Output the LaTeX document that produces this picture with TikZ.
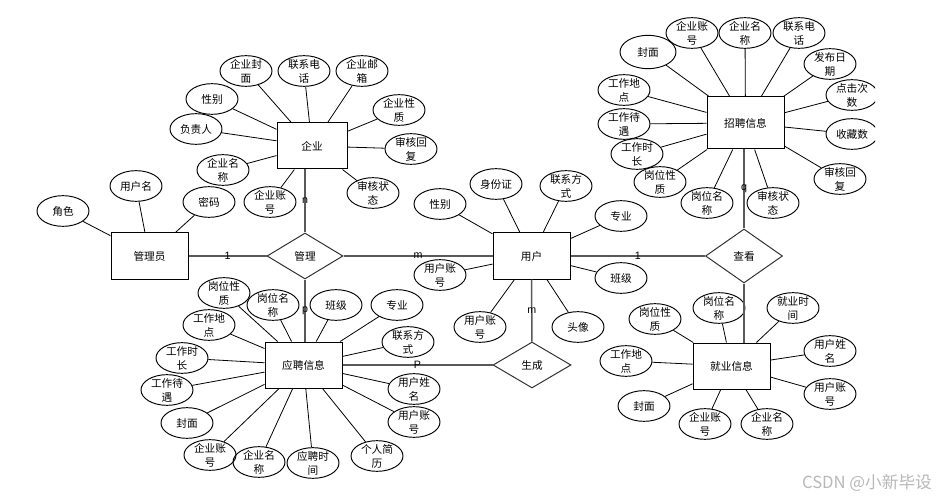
\documentclass[tikz,border=0pt]{standalone}
\usepackage{fontspec}
\setmainfont{Liberation Sans}
\newfontfamily\cjk{Noto Sans CJK SC}
\usetikzlibrary{shapes.geometric}
\newcommand\attrnode[4][]{\node[attr,#1,label={[alab]center:{#4}}] (#2) at (#3) {};}
\begin{document}
\begin{tikzpicture}[x=0.75pt,y=-0.75pt,
  ent/.style={draw=black, line width=0.75pt, minimum width=57.75pt, minimum height=34.5pt, inner sep=0pt, font=\cjk\fontsize{8}{10.5}\selectfont},
  relbox/.style={diamond, draw=black!80, line width=0.75pt, inner sep=0pt, minimum width=57pt, minimum height=34.5pt, font=\cjk\fontsize{8}{10.5}\selectfont},
  attr/.style={ellipse, draw=black, line width=0.7pt, minimum width=39pt, minimum height=23pt, inner sep=0pt},
  alab/.style={align=center, inner sep=0pt, font=\cjk\fontsize{8}{10.5}\selectfont},
  aline/.style={draw=black, line width=0.6pt},
  rline/.style={draw=black!65, line width=1.1pt},
  card/.style={inner sep=0pt, font=\fontsize{8}{9}\selectfont}
]
\useasboundingbox[fill=white] (0,0) rectangle (939,499);

% entities
\node[ent, minimum width=52.5pt] (qy) at (312,146) {企业};
\node[ent, minimum height=35.25pt] (gly) at (149.5,256) {管理员};
\node[ent] (yh) at (531.5,256) {用户};
\node[ent, minimum height=39pt] (zp) at (745.5,123) {招聘信息};
\node[ent] (jy) at (731.5,366) {就业信息};
\node[ent] (yp) at (303.5,365) {应聘信息};

% relationships
\node[relbox] (gl) at (305,256) {管理};
\node[relbox, minimum width=57.75pt, minimum height=40.5pt] (ck) at (744,256) {查看};
\node[relbox, minimum width=58.5pt] (sc) at (532,365) {生成};

% 企业 attributes
\attrnode{q1}{246,71}{企业封\\面}
\attrnode{q2}{304,71}{联系电\\话}
\attrnode{q3}{362,71}{企业邮\\箱}
\attrnode{q4}{212,99}{性别}
\attrnode{q5}{399,110}{企业性\\质}
\attrnode{q6}{196,129}{负责人}
\attrnode{q7}{411,149}{审核回\\复}
\attrnode{q8}{223,170}{企业名\\称}
\attrnode{q9}{270,202}{企业账\\号}
\attrnode{q10}{373,193}{审核状\\态}
\foreach \a in {q1,q2,q3,q4,q5,q6,q7,q8,q9,q10} \draw[aline] (\a) -- (qy);

% 管理员 attributes
\attrnode{g1}{136,186}{用户名}
\attrnode{g2}{63,211}{角色}
\attrnode{g3}{209,202}{密码}
\foreach \a in {g1,g2,g3} \draw[aline] (\a) -- (gly);

% 用户 attributes
\attrnode{y1}{440,204}{性别}
\attrnode{y2}{496,184}{身份证}
\attrnode{y3}{566,186}{联系方\\式}
\attrnode{y4}{621,216}{专业}
\attrnode{y5}{440,275}{用户账\\号}
\attrnode{y6}{621,278}{班级}
\attrnode{y7}{480,327}{用户账\\号}
\attrnode{y8}{578,327}{头像}
\foreach \a in {y1,y2,y3,y4,y5,y6,y7,y8} \draw[aline] (\a) -- (yh);

% 招聘信息 attributes
\attrnode{z1}{692,33}{企业账\\号}
\attrnode{z2}{745,33}{企业名\\称}
\attrnode{z3}{799,33}{联系电\\话}
\attrnode[minimum width=42pt, minimum height=25pt]{z4}{648,52}{封面}
\attrnode{z5}{830,64}{发布日\\期}
\attrnode{z6}{624,90}{工作地\\点}
\begin{scope}
\clip (0,0) rectangle (875,499);
\attrnode{z7}{852,95}{点击次\\数}
\attrnode{z9}{852,134}{收藏数}
\end{scope}
\attrnode{z8}{624,124}{工作待\\遇}
\attrnode{z10}{637,154}{工作时\\长}
\attrnode{z11}{840,179}{审核回\\复}
\attrnode{z12}{660,182}{岗位性\\质}
\attrnode{z13}{707,203}{岗位名\\称}
\attrnode{z14}{773,203}{审核状\\态}
\foreach \a in {z1,z2,z3,z4,z5,z6,z7,z8,z9,z10,z11,z12,z13,z14} \draw[aline] (\a) -- (zp);

% 就业信息 attributes
\attrnode{j1}{719,308}{岗位名\\称}
\attrnode{j2}{793,308}{就业时\\间}
\attrnode{j3}{655,319}{岗位性\\质}
\attrnode{j4}{830,351}{用户姓\\名}
\attrnode{j5}{626,361}{工作地\\点}
\attrnode{j6}{830,394}{用户账\\号}
\attrnode{j7}{644,406}{封面}
\attrnode{j8}{705,424}{企业账\\号}
\attrnode{j9}{767,424}{企业名\\称}
\foreach \a in {j1,j2,j3,j4,j5,j6,j7,j8,j9} \draw[aline] (\a) -- (jy);

% 应聘信息 attributes
\attrnode{p1}{224,293}{岗位性\\质}
\attrnode{p2}{273,305}{岗位名\\称}
\attrnode{p3}{336,305}{班级}
\attrnode{p4}{397,305}{专业}
\attrnode{p5}{209,325}{工作地\\点}
\attrnode{p6}{408,342}{联系方\\式}
\attrnode{p7}{182,358}{工作时\\长}
\attrnode{p8}{167,390}{工作待\\遇}
\attrnode{p9}{414,389}{用户姓\\名}
\attrnode{p10}{187,423}{封面}
\attrnode{p11}{414,422}{用户账\\号}
\attrnode{p12}{210,455}{企业账\\号}
\attrnode{p13}{259,462}{企业名\\称}
\attrnode{p14}{313,463}{应聘时\\间}
\attrnode{p15}{377,456}{个人简\\历}
\foreach \a in {p1,p2,p3,p4,p5,p6,p7,p8,p9,p10,p11,p12,p13,p14,p15} \draw[aline] (\a) -- (yp);

% relationship connectors
\draw[rline] (gly) -- node[card]{1} (gl);
\draw[rline] (gl) -- node[card]{m} (yh);
\draw[rline] (gl.north) -- node[card]{n} (gl.north |- qy.south);
\draw[rline] (gl.south) -- node[card]{p} (gl.south |- yp.north);
\draw[rline] (yh) -- node[card]{1} (ck);
\draw[rline] (ck.north) -- node[card]{q} (ck.north |- zp.south);
\draw[rline] (ck.south) -- (ck.south |- jy.north);
\draw[rline] (yh) -- node[card]{m} (sc);
\draw[rline] (sc) -- node[card]{P} (yp);

% watermark
\node[text=black!28, inner sep=0pt, font=\cjk\fontsize{12.5}{13}\selectfont] (wm) at (867,483) {CSDN @小新毕设};
\end{tikzpicture}
\end{document}
